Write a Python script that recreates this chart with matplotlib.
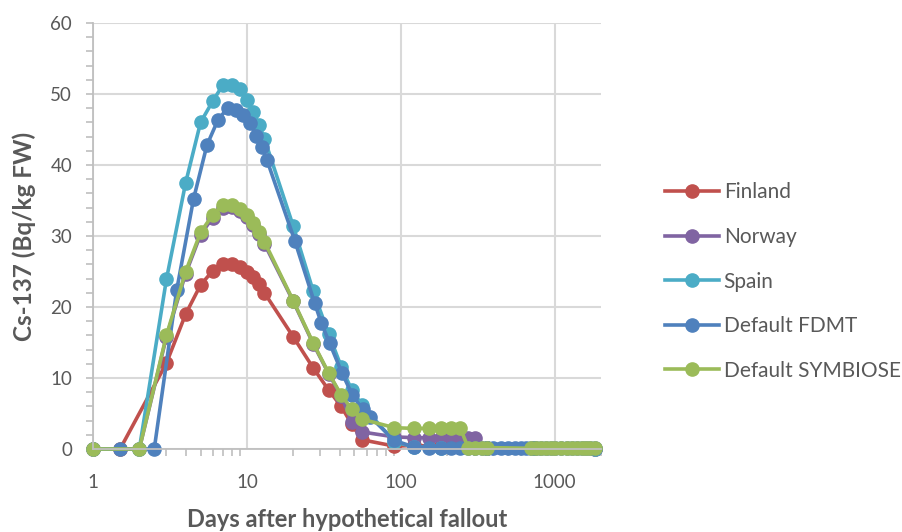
import numpy as np
import matplotlib
matplotlib.use('Agg')
import matplotlib.pyplot as plt
from matplotlib.ticker import LogLocator, MultipleLocator, FixedLocator, NullFormatter

plt.rcParams['font.family'] = ['Lato', 'DejaVu Sans']

# days after fallout / Cs-137 (Bq/kg FW)
finland_days = [1, 1.5, 3, 4, 5, 6, 7, 8, 9, 10, 11, 12, 13, 20, 27, 34, 41, 48, 56,
                91, 121, 182, 365, 730, 1825]
finland_vals = [0, 0, 12.1, 19.0, 23.1, 25.1, 26.1, 26.0, 25.6, 25.0, 24.2, 23.2, 22.0,
                15.8, 11.4, 8.3, 6.0, 3.5, 1.3, 0.4, 0.5, 0.4, 0.2, 0.1, 0.05]

norway_days = [1, 2, 3, 4, 5, 6, 7, 8, 9, 10, 11, 12, 13, 20, 27, 34, 41, 48, 56,
               91, 121, 152, 182, 213, 244, 274, 305, 365, 730, 1825]
norway_vals = [0, 0, 15.8, 24.7, 30.2, 32.6, 34.0, 34.1, 33.5, 32.7, 31.5, 30.3, 28.9,
               20.8, 14.8, 10.6, 7.5, 3.8, 2.4, 1.7, 1.6, 1.6, 1.6, 1.6, 1.6, 1.6, 1.5,
               0.2, 0.1, 0.05]

spain_days = [1, 2, 3, 4, 5, 6, 7, 8, 9, 10, 11, 12, 13, 20, 27, 34, 41, 48, 56,
              91, 121, 182, 365, 730, 1825]
spain_vals = [0, 0, 23.9, 37.5, 46.0, 49.0, 51.3, 51.3, 50.7, 49.2, 47.4, 45.6, 43.7,
              31.4, 22.2, 16.2, 11.6, 8.3, 6.2, 1.0, 0.3, 0.2, 0.1, 0.1, 0.05]

fdmt_days = [1.5, 2.5, 3.5, 4.5, 5.5, 6.5, 7.5, 8.5, 9.5, 10.5, 11.5, 12.5, 13.5,
             20.5, 27.5, 30.5, 34.5, 41.5, 48.5, 56.5, 63.5,
             91, 121, 152, 182, 213, 244, 274, 305, 335, 365, 400, 450, 500, 550, 600,
             650, 700, 760, 820, 880, 940, 1000, 1100, 1200, 1300, 1400, 1500, 1600,
             1700, 1825]
fdmt_vals = [0, 0, 22.4, 35.2, 42.8, 46.4, 48.0, 47.7, 47.0, 45.9, 44.1, 42.5, 40.7,
             29.3, 20.6, 17.7, 14.9, 10.7, 7.6, 5.6, 4.5,
             1.2, 0.3, 0.2, 0.2, 0.2, 0.2, 0.2, 0.2, 0.2, 0.2, 0.15, 0.15, 0.15, 0.15, 0.15,
             0.1, 0.1, 0.1, 0.1, 0.1, 0.1, 0.1, 0.1, 0.1, 0.1, 0.1, 0.1, 0.1,
             0.1, 0.1]

symbiose_days = [1, 2, 3, 4, 5, 6, 7, 8, 9, 10, 11, 12, 13, 20, 27, 34, 41, 48, 56,
                 91, 121, 152, 182, 213, 244, 274, 305, 335, 365,
                 700, 760, 820, 880, 940, 1000, 1100, 1200, 1300, 1400, 1500, 1600,
                 1700, 1825]
symbiose_vals = [0, 0, 16.0, 25.0, 30.5, 33.0, 34.4, 34.4, 33.8, 33.0, 31.8, 30.6, 29.2,
                 20.9, 14.9, 10.7, 7.6, 5.6, 4.2, 3.0, 2.9, 2.9, 2.9, 2.9, 2.9,
                 0.2, 0.2, 0.2, 0.2,
                 0.1, 0.1, 0.1, 0.1, 0.1, 0.1, 0.1, 0.1, 0.1, 0.1, 0.1, 0.1,
                 0.1, 0.1]

series = [('Finland', finland_days, finland_vals, '#C0504D'),
          ('Norway', norway_days, norway_vals, '#8064A2'),
          ('Spain', spain_days, spain_vals, '#4BACC6'),
          ('Default FDMT', fdmt_days, fdmt_vals, '#4F81BD'),
          ('Default SYMBIOSE', symbiose_days, symbiose_vals, '#9BBB59')]

text_col = '#595959'
grid_col = '#D9D9D9'

fig = plt.figure(figsize=(9.03, 5.32), dpi=100)
ax = fig.add_axes([93/903, 1 - 449/532, (601 - 93)/903, (449 - 23)/532])

for name, d, v, c in series:
    ax.plot(d, v, '-o', color=c, lw=2.6, ms=9.5, label=name, clip_on=False)

ax.set_xscale('log')
ax.set_xlim(1, 2000)
ax.set_ylim(0, 60)

ax.xaxis.set_major_locator(FixedLocator([1, 10, 100, 1000]))
ax.xaxis.set_major_formatter(matplotlib.ticker.FuncFormatter(lambda x, p: '%d' % x))
ax.xaxis.set_minor_locator(LogLocator(base=10, subs=np.arange(2, 10), numticks=20))
ax.xaxis.set_minor_formatter(NullFormatter())
ax.yaxis.set_major_locator(MultipleLocator(10))
ax.yaxis.set_minor_locator(MultipleLocator(2))

ax.grid(True, which='major', color=grid_col, lw=1.5)
ax.set_axisbelow(True)
for s in ['top', 'right']:
    ax.spines[s].set_visible(False)
for s in ['left', 'bottom']:
    ax.spines[s].set_color('#BFBFBF')
    ax.spines[s].set_linewidth(1.3)

ax.tick_params(axis='x', which='major', length=0, pad=18, labelsize=13.5, labelcolor=text_col)
ax.tick_params(axis='x', which='minor', length=5, width=1.2, color='#BFBFBF')
ax.tick_params(axis='y', which='both', length=5, width=1.2, color='#BFBFBF')
ax.tick_params(axis='y', which='major', pad=10, labelsize=13.5, labelcolor=text_col)

ax.set_xlabel('Days after hypothetical fallout', fontsize=17, fontweight='bold',
              color=text_col, labelpad=12)
ax.set_ylabel('Cs-137 (Bq/kg FW)', fontsize=17.5, fontweight='bold', color=text_col,
              labelpad=10)

leg = fig.legend(loc='upper left', bbox_to_anchor=(657/903, 1 - 174/532), frameon=False,
                 fontsize=15, labelcolor=text_col, handlelength=2.6, handletextpad=0.2,
                 labelspacing=1.18, borderaxespad=0)

plt.savefig('out.png', dpi=100)
